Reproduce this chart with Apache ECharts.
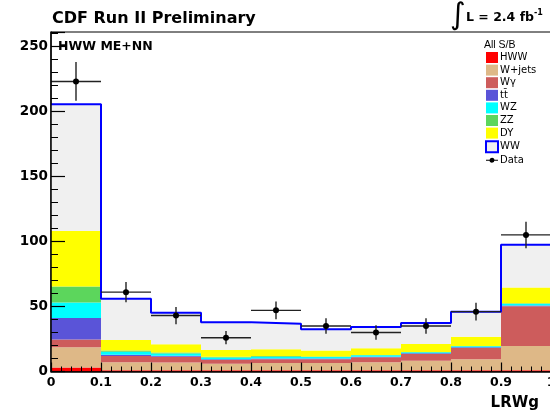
<!DOCTYPE html>
<html>
<head>
<meta charset="utf-8">
<script src="https://cdn.jsdelivr.net/npm/echarts@6/dist/echarts.min.js"></script>
<style>html,body{margin:0;padding:0;background:#fff}#c{width:550px;height:414px}</style>
</head>
<body>
<div id="c"></div>
<script>
// ---- data ----
const categories = ['0.0-0.1','0.1-0.2','0.2-0.3','0.3-0.4','0.4-0.5','0.5-0.6','0.6-0.7','0.7-0.8','0.8-0.9','0.9-1.0'];
const binCenters = [0.05,0.15,0.25,0.35,0.45,0.55,0.65,0.75,0.85,0.95];
const binHalfWidth = 0.05;
const hww    = [3, 1, 1, 1, 1, 1, 1, 1, 1, 1];
const wjets  = [15.6, 6.1, 6, 5, 5.5, 5.5, 6.1, 7.3, 8.4, 18.6];
const wgamma = [6, 4.8, 4.3, 2.8, 2.9, 2.9, 3.8, 5.2, 8.7, 30.6];
const ttbar  = [16.5, 1, 0.8, 0.6, 0.6, 0.5, 0.5, 0.5, 0.5, 0.6];
const wz     = [12, 2.2, 1.8, 1.4, 1.4, 1.2, 1, 0.8, 0.8, 1.2];
const zz     = [12.3, 1, 0.8, 0.6, 0.5, 0.5, 0.3, 0.2, 0.2, 0.4];
const dy     = [42.6, 8.2, 6.3, 5.1, 5.2, 4.6, 5.2, 6.2, 7.2, 12.1];
const ww     = [97.4, 31.7, 24.2, 21.3, 19.7, 16.2, 16.3, 16.1, 19.2, 33];
const dataVals = [223, 61, 43, 26, 47, 35, 30, 35, 46, 105];
const dataErr  = [14.9, 7.8, 6.6, 5.1, 6.9, 5.9, 5.5, 5.9, 6.8, 10.2];
const yTicks = [0, 50, 100, 150, 200, 250];

const stackDefs = [
  {name:'HWW', data:hww, color:'#ff0000'},
  {name:'W+jets', data:wjets, color:'#deb887'},
  {name:'W\u03b3', data:wgamma, color:'#cd5c5c'},
  {name:'tt\u0304', data:ttbar, color:'#5a54d8'},
  {name:'WZ', data:wz, color:'#00ffff'},
  {name:'ZZ', data:zz, color:'#5cd65c'},
  {name:'DY', data:dy, color:'#ffff00'},
  {name:'WW', data:ww, color:'#f0f0f0'}
];

const totals = categories.map((c,i)=>stackDefs.reduce((s,d)=>s+d.data[i],0));
const outline = binCenters.map((c,i)=>[c-binHalfWidth, totals[i]]);
outline.push([binCenters[binCenters.length-1]+binHalfWidth, totals[totals.length-1]]);

const series = stackDefs.map(d=>({
  name:d.name, type:'bar', stack:'mc', xAxisIndex:0, yAxisIndex:0,
  data:d.data, barWidth:'100%', barCategoryGap:'0%',
  itemStyle:{color:d.color}, emphasis:{disabled:true}, z:2
}));
series.push({
  name:'WWline', type:'line', xAxisIndex:1, yAxisIndex:0, step:'end',
  data:outline, symbol:'none', lineStyle:{color:'#0000ff', width:2}, z:4, silent:true
});
series.push({
  name:'Data', type:'custom', xAxisIndex:1, yAxisIndex:0, z:6,
  data:binCenters.map((c,i)=>[c, dataVals[i], dataErr[i]]),
  renderItem:function(params, api){
    const x=api.value(0), y=api.value(1), e=api.value(2);
    const c=api.coord([x,y]);
    const l=api.coord([x-binHalfWidth,y]), r=api.coord([x+binHalfWidth,y]);
    const t=api.coord([x,y+e]), b=api.coord([x,y-e]);
    return {type:'group', children:[
      {type:'line', shape:{x1:l[0],y1:c[1],x2:r[0],y2:c[1]}, style:{stroke:'#222',lineWidth:1.4}},
      {type:'line', shape:{x1:c[0],y1:t[1],x2:c[0],y2:b[1]}, style:{stroke:'#222',lineWidth:1.4}},
      {type:'circle', shape:{cx:c[0],cy:c[1],r:3}, style:{fill:'#000'}}
    ]};
  }
});

const chart = echarts.init(document.getElementById('c'), null, {renderer:'canvas'});
const bold = 'DejaVu Sans';
chart.setOption({
  animation:false,
  backgroundColor:'#fff',
  title:{text:'CDF Run II Preliminary', left:47, top:6,
    textStyle:{fontFamily:bold, fontWeight:'bold', fontSize:16, color:'#000'}},
  grid:{left:51, top:32, width:500, height:339.5, show:true, borderColor:'#000', borderWidth:1,
        backgroundColor:'#fff', outerBoundsMode:'none', containLabel:false},
  xAxis:[
    {type:'category', data:categories, show:false, boundaryGap:true},
    {type:'value', min:0, max:1, interval:0.1, position:'bottom', z:10,
     axisLine:{show:true, onZero:false, lineStyle:{color:'#000', width:1.5}},
     axisTick:{show:true, inside:true, length:9, lineStyle:{color:'#000', width:1.2}},
     minorTick:{show:true, splitNumber:5, length:5, lineStyle:{color:'#000', width:1}},
     splitLine:{show:false},
     axisLabel:{show:true, showMaxLabel:true, margin:5, fontFamily:bold, fontWeight:'bold', fontSize:12.5, color:'#000',
       formatter:function(v){ if(Math.abs(v)<1e-9) return '0'; if(Math.abs(v-1)<1e-9) return '1'; return v.toFixed(1);} }}
  ],
  yAxis:[{type:'value', min:0, max:261, interval:50, z:10,
    axisLine:{show:true, lineStyle:{color:'#000', width:1.5}},
    axisTick:{show:true, inside:true, length:14, lineStyle:{color:'#000', width:1.2}},
    minorTick:{show:true, splitNumber:5, length:7, lineStyle:{color:'#000', width:1}},
    splitLine:{show:false},
    axisLabel:{margin:3, fontFamily:bold, fontWeight:'bold', fontSize:13.5, color:'#000',
      formatter:function(v){ return yTicks.indexOf(v)>=0 ? String(v) : ''; }}
  }],
  legend:{
    orient:'vertical', left:485, top:52, padding:0, itemGap:1.6, itemWidth:12, itemHeight:11,
    icon:'rect', selectedMode:false,
    textStyle:{fontFamily:'DejaVu Sans', fontSize:10, color:'#000', lineHeight:11, padding:[0,0,0,-3]},
    data:[
      {name:'HWW'},{name:'W+jets'},{name:'W\u03b3'},{name:'tt\u0304'},{name:'WZ'},{name:'ZZ'},{name:'DY'},
      {name:'WW', itemStyle:{color:'#f0f0f0', borderColor:'#0000ff', borderWidth:2}},
      {name:'Data', icon:'path://M0 0H0.01V0.01H0Z M12 10.99H12.01V11H12Z M0 5H12V6H0Z M6 3A2.5 2.5 0 1 1 5.99 3Z', itemStyle:{color:'#000'}}
    ]
  },
  graphic:[
    {type:'text', left:58, top:40, style:{text:'HWW ME+NN', fontFamily:bold, fontWeight:'bold', fontSize:12.5, fill:'#000'}},
    {type:'text', left:484, top:40, style:{text:'All S/B', fontFamily:'Liberation Sans', fontSize:10.5, fill:'#000'}},
    {type:'text', left:450, top:1, style:{text:'\u222b', fontFamily:'DejaVu Sans', fontSize:30, fill:'#000'}},
    {type:'text', left:466, top:9, style:{rich:{
        a:{fontFamily:bold, fontWeight:'bold', fontSize:12.5, fill:'#000', verticalAlign:'bottom'},
        s:{fontFamily:bold, fontWeight:'bold', fontSize:8, fill:'#000', verticalAlign:'top', padding:[0,0,7,0]}
      }, text:'{a|L = 2.4 fb}{s|-1}'}},
    {type:'text', right:11, top:396, style:{text:'LRWg', fontFamily:bold, fontWeight:'bold', fontSize:15, fill:'#000'}}
  ],
  series:series
});
</script>
</body>
</html>
